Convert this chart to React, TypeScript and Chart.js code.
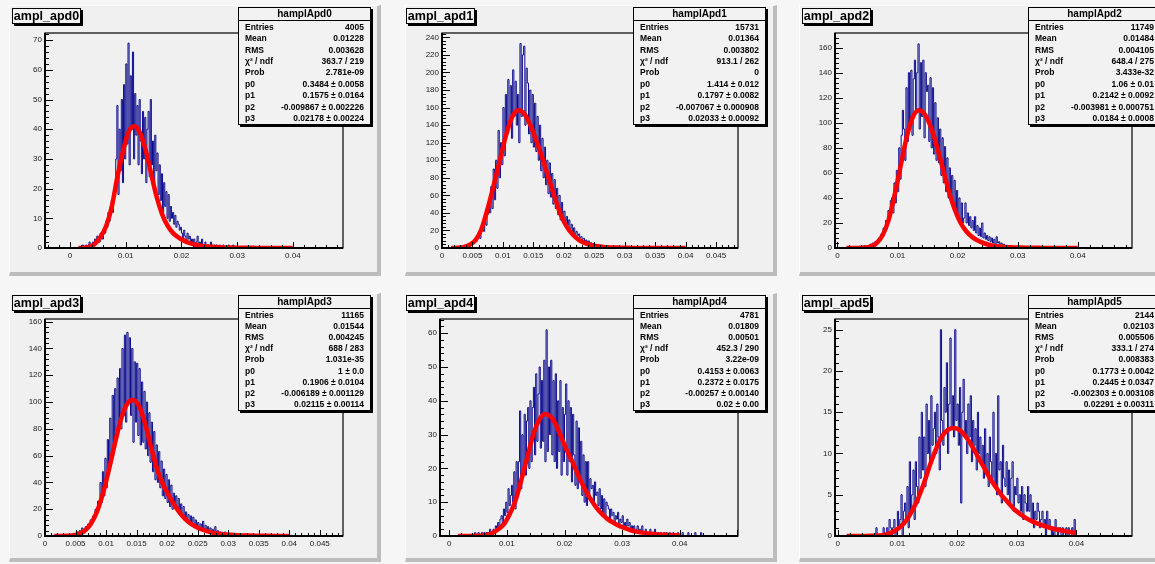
import React, { useEffect, useRef } from 'react';
import { Chart, registerables } from 'chart.js';

Chart.register(...registerables);

// ---------------- DATA ----------------
const PANEL_TITLES = ['ampl_apd0', 'ampl_apd1', 'ampl_apd2', 'ampl_apd3', 'ampl_apd4', 'ampl_apd5'];
const STAT_TITLES = ['hamplApd0', 'hamplApd1', 'hamplApd2', 'hamplApd3', 'hamplApd4', 'hamplApd5'];
const STAT_NAMES = ['Entries', 'Mean', 'RMS', 'χ² / ndf', 'Prob', 'p0', 'p1', 'p2', 'p3'];

const STATS_0 = ['4005', '0.01228', '0.003628', '363.7 / 219', '2.781e-09', '0.3484 ± 0.0058', '0.1575 ± 0.0164', '-0.009867 ± 0.002226', '0.02178 ± 0.00224'];
const STATS_1 = ['15731', '0.01364', '0.003802', '913.1 / 262', '0', '1.414 ± 0.012', '0.1797 ± 0.0082', '-0.007067 ± 0.000908', '0.02033 ± 0.00092'];
const STATS_2 = ['11749', '0.01484', '0.004105', '648.4 / 275', '3.433e-32', '1.06 ± 0.01', '0.2142 ± 0.0092', '-0.003981 ± 0.000751', '0.0184 ± 0.0008'];
const STATS_3 = ['11165', '0.01544', '0.004245', '688 / 283', '1.031e-35', '1 ± 0.0', '0.1906 ± 0.0104', '-0.006189 ± 0.001129', '0.02115 ± 0.00114'];
const STATS_4 = ['4781', '0.01809', '0.00501', '452.3 / 290', '3.22e-09', '0.4153 ± 0.0063', '0.2372 ± 0.0175', '-0.00257 ± 0.00140', '0.02 ± 0.00'];
const STATS_5 = ['2144', '0.02103', '0.005506', '333.1 / 274', '0.008383', '0.1773 ± 0.0042', '0.2445 ± 0.0347', '-0.002303 ± 0.003108', '0.02291 ± 0.00311'];

const BIN_WIDTH = 0.0002;
const HIST_START = [0.002, 0.002, 0.003, 0.003, 0.004, 0.006];

const HIST_0 = [
  0, 1, 0, 0, 1, 0, 1, 2, 0, 1,
  2, 1, 3, 2, 4, 3, 2, 5, 4, 3,
  6, 5, 9, 7, 12, 9, 14, 16, 12, 20,
  19, 30, 48, 18, 40, 26, 50, 22, 55, 30,
  62, 35, 69, 28, 58, 40, 66, 30, 52, 38,
  48, 28, 50, 36, 25, 46, 30, 44, 22, 40,
  46, 24, 50, 28, 36, 20, 38, 26, 32, 18,
  28, 16, 25, 12, 22, 14, 19, 10, 18, 9,
  14, 10, 12, 8, 11, 7, 9, 8, 6, 7,
  5, 3, 6, 4, 2, 5, 3, 4, 2, 3,
  2, 3, 1, 2, 4, 1, 2, 1, 3, 1,
  1, 2, 0, 1, 1, 0, 2, 1, 0, 1,
  0, 1, 0, 0, 1, 0, 0, 1, 0, 0,
  0, 0, 1, 0, 0, 0, 1, 0, 0, 0,
];
const HIST_1 = [
  0, 0, 1, 0, 1, 0, 2, 1, 1, 3,
  2, 4, 3, 5, 4, 7, 6, 9, 8, 12,
  14, 11, 20, 24, 19, 30, 26, 38, 46, 40,
  70, 45, 90, 55, 100, 68, 134, 80, 120, 95,
  160, 105, 175, 130, 192, 140, 185, 125, 203, 150,
  190, 140, 175, 120, 233, 150, 220, 230, 140, 205,
  188, 130, 180, 120, 175, 115, 165, 110, 150, 100,
  140, 88, 125, 80, 115, 72, 100, 62, 97, 58,
  85, 50, 78, 45, 68, 38, 60, 32, 52, 30,
  42, 30, 36, 26, 32, 22, 27, 18, 23, 16,
  19, 14, 16, 12, 13, 10, 11, 8, 9, 7,
  8, 5, 6, 4, 5, 3, 4, 2, 3, 2,
  2, 1, 2, 1, 1, 0, 1, 1, 0, 1,
  0, 1, 0, 0, 1, 0, 0, 0, 1, 0,
];
const HIST_2 = [
  0, 1, 0, 0, 1, 1, 0, 2, 1, 1,
  2, 1, 3, 2, 4, 3, 5, 4, 6, 8,
  7, 11, 9, 16, 14, 22, 19, 30, 26, 38,
  40, 28, 52, 36, 62, 45, 80, 55, 90, 110,
  95, 70, 128, 85, 140, 100, 142, 90, 135, 150,
  110, 140, 163, 95, 148, 105, 150, 88, 140, 125,
  130, 85, 136, 80, 128, 75, 116, 70, 104, 68,
  95, 58, 88, 52, 81, 45, 72, 40, 64, 38,
  58, 32, 54, 28, 46, 25, 40, 22, 36, 20,
  24, 36, 20, 28, 18, 25, 16, 22, 14, 25,
  12, 18, 10, 16, 9, 20, 8, 12, 7, 10,
  6, 9, 5, 8, 4, 7, 3, 9, 4, 5,
  3, 4, 2, 3, 1, 2, 2, 1, 1, 2,
  1, 0, 1, 1, 0, 1, 0, 0, 1, 0,
];
const HIST_3 = [
  0, 0, 1, 0, 1, 0, 1, 1, 2, 1,
  2, 3, 2, 4, 3, 6, 5, 4, 7, 6,
  9, 8, 12, 10, 15, 13, 20, 18, 26, 22,
  40, 25, 48, 30, 58, 36, 72, 50, 88, 60,
  105, 70, 110, 78, 118, 85, 125, 80, 140, 90,
  150, 85, 152, 100, 148, 90, 140, 70, 130, 85,
  129, 75, 125, 68, 115, 70, 108, 65, 100, 60,
  92, 55, 85, 48, 78, 42, 68, 40, 63, 36,
  56, 30, 50, 28, 46, 25, 42, 22, 38, 20,
  32, 24, 30, 20, 28, 18, 24, 16, 22, 14,
  18, 13, 16, 11, 15, 10, 14, 9, 12, 8,
  10, 7, 9, 6, 11, 5, 8, 4, 7, 4,
  6, 3, 5, 2, 7, 3, 4, 2, 3, 1,
  2, 1, 3, 1, 2, 0, 1, 1, 0, 1,
  0, 1, 0, 0, 1,
];
const HIST_4 = [
  0, 0, 1, 0, 0, 1, 0, 0, 1, 0,
  1, 0, 1, 1, 0, 2, 1, 1, 2, 1,
  3, 2, 4, 2, 5, 6, 3, 8, 6, 10,
  7, 14, 9, 12, 15, 10, 19, 8, 22, 14,
  22, 37, 14, 30, 20, 36, 18, 34, 38, 20,
  40, 22, 38, 44, 24, 48, 28, 42, 50, 26,
  46, 28, 52, 22, 61, 25, 50, 30, 52, 24,
  46, 22, 48, 20, 40, 25, 46, 18, 38, 22,
  36, 45, 18, 40, 22, 38, 16, 36, 24, 15,
  34, 14, 32, 18, 28, 12, 24, 10, 22, 9,
  22, 12, 17, 14, 15, 10, 16, 12, 13, 9,
  14, 8, 12, 7, 11, 6, 10, 9, 8, 5,
  8, 6, 7, 4, 6, 5, 7, 3, 5, 4,
  6, 3, 4, 2, 5, 3, 4, 2, 3, 2,
  3, 1, 2, 3, 1, 2, 1, 3, 1, 1,
  2, 0, 1, 1, 2, 0, 1, 0, 2, 1,
  0, 1, 0, 1, 0, 0, 1, 0, 1, 0,
  0, 1, 0, 0, 1, 0, 0, 0, 1, 0,
  0, 0, 1, 0, 0, 0, 0, 1, 0, 0,
  0, 0, 0, 1, 0, 0, 0, 0, 1, 0,
];
const HIST_5 = [
  0, 0, 1, 0, 0, 0, 0, 0, 1, 0,
  0, 1, 0, 2, 1, 0, 1, 2, 0, 1,
  3, 1, 2, 5, 0, 3, 4, 2, 6, 1,
  9, 3, 5, 8, 2, 9, 6, 4, 12, 7,
  15, 8, 12, 6, 16, 10, 14, 9, 17, 11,
  13, 15, 10, 16, 12, 8, 25, 14, 11, 18,
  15, 21, 10, 16, 24, 13, 17, 12, 25, 14,
  16, 11, 18, 4, 15, 19, 12, 14, 10, 16,
  12, 17, 9, 14, 11, 13, 8, 15, 10, 12,
  9, 11, 7, 13, 8, 10, 6, 12, 9, 7,
  15, 6, 10, 5, 17, 8, 9, 4, 11, 7,
  6, 9, 5, 8, 4, 7, 9, 3, 6, 5,
  7, 4, 5, 3, 6, 2, 5, 4, 3, 6,
  3, 5, 2, 4, 1, 3, 2, 4, 3, 1,
  2, 3, 1, 2, 0, 3, 1, 2, 1, 0,
  1, 0, 2, 1, 0, 1, 1, 0, 1, 0,
  0, 1, 0, 1, 0, 0, 1, 0, 2, 0,
];

const FIT_X = [
  0.0015, 0.0025, 0.0035, 0.0045, 0.0055, 0.0065, 0.0075, 0.0085, 0.0095, 0.0105,
  0.0115, 0.0125, 0.0135, 0.0145, 0.0155, 0.0165, 0.0175, 0.0185, 0.0195, 0.0205,
  0.0215, 0.0225, 0.0235, 0.0245, 0.0255, 0.0265, 0.0275, 0.0285, 0.0295, 0.0305,
  0.0315, 0.0325, 0.0335, 0.0345, 0.0355, 0.0365, 0.0375, 0.0385, 0.0395, 0.04,
];
const FIT_0 = [0, 0.1, 0.4, 1.5, 3.8, 7.5, 14, 24, 32.5, 39, 41, 39, 33.5, 25.5, 17.5, 11.5, 7.5, 5, 3.5, 2.4, 1.6, 1.1, 0.8, 0.55, 0.4, 0.3, 0.2, 0.15, 0.1, 0.08, 0.06, 0.05, 0.04, 0.03, 0.02, 0.02, 0.01, 0.01, 0.01, 0.01];
const FIT_1 = [0, 0.2, 1, 3.5, 9, 22, 45, 72, 100, 128, 149, 157, 153, 140, 122, 102, 80, 58, 38, 24, 15, 9, 5.5, 3.2, 1.9, 1.1, 0.7, 0.45, 0.3, 0.2, 0.13, 0.09, 0.06, 0.04, 0.03, 0.02, 0.01, 0.01, 0.01, 0.01];
const FIT_2 = [0, 0, 0.1, 0.3, 1.2, 3.8, 10, 22, 42, 65, 88, 104, 110, 107, 97, 82, 64, 46, 31, 20, 13, 8.5, 5.5, 3.6, 2.3, 1.5, 1, 0.7, 0.5, 0.35, 0.25, 0.18, 0.12, 0.09, 0.06, 0.04, 0.03, 0.02, 0.02, 0.01];
const FIT_3 = [0, 0, 0.1, 0.4, 1.5, 4, 9, 18, 32, 50, 70, 88, 99, 101.5, 96, 82, 64, 48, 37, 28.5, 21, 15, 10.5, 7.5, 5.2, 3.6, 2.4, 1.7, 1.2, 0.85, 0.6, 0.42, 0.3, 0.2, 0.14, 0.1, 0.07, 0.05, 0.03, 0.03];
const FIT_4 = [0, 0, 0.02, 0.05, 0.1, 0.3, 0.9, 2, 3.5, 6.5, 10.5, 16.5, 23, 29.5, 34, 36, 35.5, 33, 29, 25, 21.5, 17.5, 14, 11, 8.5, 6.5, 5, 3.9, 3, 2.3, 1.7, 1.3, 1, 0.75, 0.6, 0.45, 0.35, 0.27, 0.2, 0.18];
const FIT_5 = [0, 0, 0, 0.01, 0.02, 0.05, 0.1, 0.25, 0.6, 1.1, 1.9, 3.1, 4.6, 6.5, 8.7, 10.6, 12.1, 12.9, 13.1, 12.8, 12, 10.9, 9.6, 8.3, 7, 5.9, 4.9, 4.1, 3.3, 2.7, 2.2, 1.8, 1.5, 1.25, 1, 0.82, 0.66, 0.53, 0.43, 0.4];

const X_MIN = [-0.0045, 0, -0.0004, 0, -0.0016, -0.00045];
const X_MAX = [0.049, 0.0486, 0.049, 0.0488, 0.0501, 0.0493];
const Y_MAX = [72.4, 245, 171.7, 162, 64.2, 26.3];

const X_TICKS_A = [0, 0.01, 0.02, 0.03, 0.04];
const X_TICKS_B = [0, 0.005, 0.01, 0.015, 0.02, 0.025, 0.03, 0.035, 0.04, 0.045];
const Y_TICKS_0 = [0, 10, 20, 30, 40, 50, 60, 70];
const Y_TICKS_1 = [0, 20, 40, 60, 80, 100, 120, 140, 160, 180, 200, 220, 240];
const Y_TICKS_2 = [0, 20, 40, 60, 80, 100, 120, 140, 160];
const Y_TICKS_3 = [0, 20, 40, 60, 80, 100, 120, 140, 160];
const Y_TICKS_4 = [0, 10, 20, 30, 40, 50, 60];
const Y_TICKS_5 = [0, 5, 10, 15, 20, 25];

const STATS = [STATS_0, STATS_1, STATS_2, STATS_3, STATS_4, STATS_5];
const HISTS = [HIST_0, HIST_1, HIST_2, HIST_3, HIST_4, HIST_5];
const FITS = [FIT_0, FIT_1, FIT_2, FIT_3, FIT_4, FIT_5];
const X_TICKS = [X_TICKS_A, X_TICKS_B, X_TICKS_A, X_TICKS_B, X_TICKS_A, X_TICKS_A];
const Y_TICKS = [Y_TICKS_0, Y_TICKS_1, Y_TICKS_2, Y_TICKS_3, Y_TICKS_4, Y_TICKS_5];
const X_MAJOR = [0.01, 0.005, 0.01, 0.005, 0.01, 0.01];
const X_MINOR = [0.002, 0.001, 0.002, 0.001, 0.002, 0.002];
const Y_MAJOR = [10, 20, 20, 20, 10, 5];
const Y_MINOR = [2, 4, 4, 4, 2, 1];

// ---------------- LAYOUT ----------------
const PADS = [
  { x: 9, y: 5, w: 372, h: 271 },
  { x: 405, y: 5, w: 372, h: 271 },
  { x: 799, y: 5, w: 372, h: 271 },
  { x: 9, y: 293, w: 372, h: 269 },
  { x: 405, y: 293, w: 372, h: 269 },
  { x: 799, y: 293, w: 372, h: 269 },
];
const FRAMES = [
  { l: 45, t: 33, r: 343, b: 248 },
  { l: 442, t: 33, r: 738, b: 248 },
  { l: 835, t: 33, r: 1132, b: 248 },
  { l: 45, t: 319, r: 343, b: 536 },
  { l: 440, t: 319, r: 738, b: 536 },
  { l: 835, t: 319, r: 1132, b: 536 },
];
const TITLE_POS = [
  { x: 12, y: 8 }, { x: 406, y: 8 }, { x: 802, y: 8 },
  { x: 12, y: 295 }, { x: 406, y: 295 }, { x: 802, y: 295 },
];
const STAT_POS = [
  { x: 238, y: 7, h: 118 }, { x: 633, y: 7, h: 118 }, { x: 1028, y: 7, h: 118 },
  { x: 238, y: 295, h: 116 }, { x: 633, y: 295, h: 116 }, { x: 1028, y: 295, h: 116 },
];

const FONT = "'Liberation Sans', Arial, Helvetica, sans-serif";
const Y_AXIS_W = 45;
const X_AXIS_H = 25;
const PAD_TOP = 10;
const PAD_RIGHT = 10;

const isMultiple = (v: number, step: number) => Math.abs(v / step - Math.round(v / step)) < 1e-6;

const rootAxes = {
  id: 'rootAxes',
  afterDatasetsDraw(chart: any, _args: any, opts: any) {
    const { ctx, chartArea: a } = chart;
    const xs = chart.scales.x;
    const ys = chart.scales.y;
    ctx.save();
    ctx.strokeStyle = '#000';
    ctx.lineWidth = 1;
    for (let k = Math.ceil(xs.min / opts.xMinor - 1e-6); k * opts.xMinor <= xs.max + 1e-9; k++) {
      const v = k * opts.xMinor;
      const px = Math.round(xs.getPixelForValue(v)) + 0.5;
      const len = isMultiple(v, opts.xMajor) ? 6 : 3;
      ctx.beginPath();
      ctx.moveTo(px, a.bottom);
      ctx.lineTo(px, a.bottom - len);
      ctx.stroke();
    }
    for (let k = Math.ceil(ys.min / opts.yMinor - 1e-6); k * opts.yMinor <= ys.max + 1e-9; k++) {
      const v = k * opts.yMinor;
      const py = Math.round(ys.getPixelForValue(v)) + 0.5;
      const len = isMultiple(v, opts.yMajor) ? 8 : 4;
      ctx.beginPath();
      ctx.moveTo(a.left, py);
      ctx.lineTo(a.left + len, py);
      ctx.stroke();
    }
    ctx.lineWidth = 1.2;
    ctx.strokeRect(a.left, a.top, a.right - a.left, a.bottom - a.top);
    ctx.lineWidth = 2;
    ctx.beginPath();
    ctx.moveTo(a.left, a.top);
    ctx.lineTo(a.left, a.bottom);
    ctx.lineTo(a.right, a.bottom);
    ctx.stroke();
    ctx.restore();
  },
};

function histPoints(i: number) {
  const counts = HISTS[i];
  const start = HIST_START[i];
  const pts: { x: number; y: number }[] = [{ x: X_MIN[i], y: 0 }];
  counts.forEach((c, k) => pts.push({ x: start + k * BIN_WIDTH, y: c }));
  pts.push({ x: start + counts.length * BIN_WIDTH, y: 0 });
  pts.push({ x: X_MAX[i], y: 0 });
  return pts;
}

const fmt = (v: number) => String(Math.round(v * 100000) / 100000);

function PlotCanvas({ i }: { i: number }) {
  const ref = useRef<HTMLCanvasElement>(null);
  const f = FRAMES[i];
  const w = f.r - f.l + Y_AXIS_W + PAD_RIGHT;
  const h = f.b - f.t + PAD_TOP + X_AXIS_H;
  useEffect(() => {
    const chart = new Chart(ref.current as HTMLCanvasElement, {
      type: 'line',
      data: {
        datasets: [
          {
            data: FIT_X.map((x, k) => ({ x, y: FITS[i][k] })),
            borderColor: '#ff0000',
            borderWidth: 4.5,
            pointRadius: 0,
            cubicInterpolationMode: 'monotone',
            fill: false,
          },
          {
            data: histPoints(i),
            borderColor: '#0c0c8c',
            borderWidth: 1,
            pointRadius: 0,
            stepped: 'before',
            fill: false,
          },
        ],
      },
      options: {
        animation: false,
        responsive: false,
        events: [],
        layout: { padding: { left: 0, top: PAD_TOP, right: PAD_RIGHT, bottom: 0 } },
        plugins: {
          legend: { display: false },
          tooltip: { enabled: false },
          rootAxes: { xMajor: X_MAJOR[i], xMinor: X_MINOR[i], yMajor: Y_MAJOR[i], yMinor: Y_MINOR[i] },
        } as any,
        scales: {
          x: {
            type: 'linear',
            min: X_MIN[i],
            max: X_MAX[i],
            grid: { display: false, drawTicks: false },
            border: { display: false },
            afterBuildTicks: (s: any) => { s.ticks = X_TICKS[i].map((v) => ({ value: v })); },
            afterFit: (s: any) => { s.height = X_AXIS_H; },
            ticks: {
              autoSkip: false,
              maxRotation: 0,
              padding: 3,
              color: '#1a1a1a',
              font: { family: FONT, size: 8 },
              callback: (v: any) => fmt(Number(v)),
            },
          },
          y: {
            type: 'linear',
            min: 0,
            max: Y_MAX[i],
            grid: { display: false, drawTicks: false },
            border: { display: false },
            afterBuildTicks: (s: any) => { s.ticks = Y_TICKS[i].map((v) => ({ value: v })); },
            afterFit: (s: any) => { s.width = Y_AXIS_W; },
            ticks: {
              autoSkip: false,
              padding: 3,
              color: '#1a1a1a',
              font: { family: FONT, size: 8 },
              callback: (v: any) => fmt(Number(v)),
            },
          },
        },
      } as any,
      plugins: [rootAxes as any],
    });
    return () => chart.destroy();
  }, [i]);
  return (
    <canvas
      ref={ref}
      width={w}
      height={h}
      style={{ position: 'absolute', left: f.l - Y_AXIS_W, top: f.t - PAD_TOP, width: w, height: h }}
    />
  );
}

function StatBox({ i }: { i: number }) {
  const p = STAT_POS[i];
  return (
    <div
      style={{
        position: 'absolute', left: p.x, top: p.y, width: 133, height: p.h, boxSizing: 'border-box',
        background: '#f2f2f2', border: '1px solid #000', boxShadow: '2px 2px 0 #000',
        fontFamily: FONT, color: '#000', display: 'flex', flexDirection: 'column',
      }}
    >
      <div style={{ height: 12, lineHeight: '12px', textAlign: 'center', fontSize: 10, fontWeight: 'bold', borderBottom: '1px solid #000' }}>
        {STAT_TITLES[i]}
      </div>
      {STAT_NAMES.map((n, k) => (
        <div
          key={n}
          style={{
            flex: 1, display: 'flex', justifyContent: 'space-between', alignItems: 'center',
            padding: '0 6px', fontSize: 8.5, fontWeight: 'bold', whiteSpace: 'nowrap',
          }}
        >
          <span>{n}</span>
          <span>{STATS[i][k]}</span>
        </div>
      ))}
    </div>
  );
}

function TitleBox({ i }: { i: number }) {
  const p = TITLE_POS[i];
  return (
    <div
      style={{
        position: 'absolute', left: p.x, top: p.y, width: 69, height: 16, boxSizing: 'border-box',
        background: '#f2f2f2', border: '1px solid #000', boxShadow: '2px 2px 0 #000',
        fontFamily: FONT, fontWeight: 'bold', fontSize: 12.5, lineHeight: '14px', textAlign: 'center', color: '#000',
      }}
    >
      {PANEL_TITLES[i]}
    </div>
  );
}

function Pad({ i }: { i: number }) {
  const p = PADS[i];
  return (
    <div
      style={{
        position: 'absolute', left: p.x, top: p.y, width: p.w, height: p.h, boxSizing: 'border-box',
        background: '#f0f0f0', borderTop: '1px solid #ffffff', borderLeft: '1px solid #ffffff',
        borderRight: '4px solid #bdbdbd', borderBottom: '4px solid #bdbdbd',
      }}
    />
  );
}

export default function App() {
  const idx = [0, 1, 2, 3, 4, 5];
  return (
    <div style={{ position: 'absolute', left: 0, top: 0, width: 1155, height: 564, overflow: 'hidden', background: '#f6f6f6' }}>
      {idx.map((i) => <Pad key={'p' + i} i={i} />)}
      {idx.map((i) => <PlotCanvas key={'c' + i} i={i} />)}
      {idx.map((i) => <TitleBox key={'t' + i} i={i} />)}
      {idx.map((i) => <StatBox key={'s' + i} i={i} />)}
    </div>
  );
}
